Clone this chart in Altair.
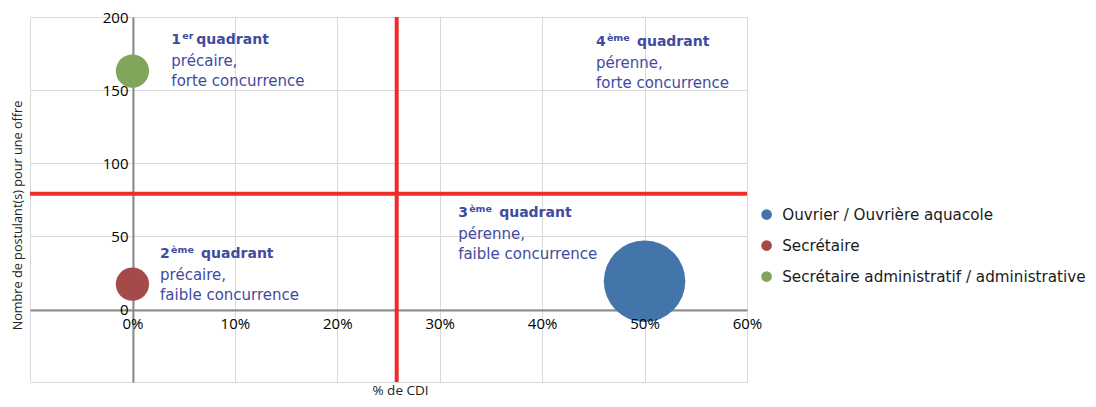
import altair as alt
import pandas as pd

# ---------------- data ----------------
metiers = ["Ouvrier / Ouvrière aquacole", "Secrétaire",
           "Secrétaire administratif / administrative"]
pct_cdi = [0.50, 0.0, 0.0]
postulants = [19, 17, 163]
nb_offres = [6, 1, 1]
couleurs = ["#4374aa", "#a54a4a", "#80a55b"]

seuil_cdi = 0.258
seuil_postulants = 79

x_ticks = [-0.1, 0.0, 0.1, 0.2, 0.3, 0.4, 0.5, 0.6]
y_ticks = [-50, 0, 50, 100, 150, 200]

quad_num = ["1", "2", "3", "4"]
quad_sup = ["er", "ème", "ème", "ème"]
quad_mot = ["quadrant", "quadrant", "quadrant", "quadrant"]
quad_l2 = ["précaire,", "précaire,", "pérenne,", "pérenne,"]
quad_l3 = ["forte concurrence", "faible concurrence",
           "faible concurrence", "forte concurrence"]
quad_x = [0.038, 0.027, 0.318, 0.4525]
quad_y = [184, 38, 66, 183]

# ---------------- styles ----------------
RED = "#ee2c2c"
BLUE_TXT = "#3f4b9f"
GRID = "#d9d9d9"
AXIS = "#8c8c8c"
TICK_FONT = "Open Sans"
TXT_FONT = "DejaVu Sans"

df = pd.DataFrame({"metier": metiers, "x": pct_cdi, "y": postulants, "s": nb_offres})
qdf = pd.DataFrame({"x": quad_x, "y": quad_y, "num": quad_num, "sup": quad_sup,
                    "mot": quad_mot, "l2": quad_l2, "l3": quad_l3})

xscale = alt.Scale(domain=[-0.1, 0.6], nice=False, zero=False)
yscale = alt.Scale(domain=[-50, 200], nice=False, zero=False)

XGRID = alt.Axis(orient="bottom", values=x_ticks, grid=True, gridColor=GRID,
                 labels=False, ticks=False, domain=True, domainColor=AXIS,
                 domainWidth=2, offset=-72, title=None, zindex=0)
YAX = alt.Axis(orient="left", values=y_ticks, grid=True, gridColor=GRID,
               ticks=False, domain=True, domainColor=AXIS, domainWidth=2,
               offset=-103,
               labelExpr="datum.value < 0 ? '' : datum.label",
               labelFont=TICK_FONT, labelFontSize=15, labelColor="#000000",
               labelPadding=5, labelOverlap=False,
               title="Nombre de postulant(s) pour une offre",
               titleFont=TICK_FONT, titleFontSize=12.7,
               titleFontWeight="normal", titleColor="#222222",
               titleX=-116, titleY=198, titleAngle=270,
               titleAlign="center", titleBaseline="middle", zindex=0)
XLAB = alt.Axis(orient="bottom", values=x_ticks, grid=False, domain=False,
                ticks=False, offset=-72,
                labelExpr="datum.value < 0 ? '' : format(datum.value, '.0%')",
                labelFont=TICK_FONT, labelFontSize=15, labelColor="#000000",
                labelPadding=6, labelFlush=False, labelOverlap=False,
                labelBound=False,
                title="% de CDI", titleFont=TICK_FONT, titleFontSize=13.5,
                titleFontWeight="normal", titleColor="#222222",
                titleX=370, titleY=80, titleAlign="center",
                titleBaseline="middle", zindex=1)

hline = alt.Chart(pd.DataFrame({"y": [seuil_postulants]})).mark_rule(color=RED, strokeWidth=4).encode(
    y=alt.Y("y:Q", scale=yscale, axis=YAX),
)

bubbles = alt.Chart(df).mark_circle(opacity=1, strokeWidth=0).encode(
    x=alt.X("x:Q", scale=xscale, axis=XGRID),
    y=alt.Y("y:Q", scale=yscale, axis=YAX),
    size=alt.Size("s:Q", scale=alt.Scale(domain=[0, 6], range=[0, 6648]), legend=None),
    color=alt.Color("metier:N", scale=alt.Scale(domain=metiers, range=couleurs),
                    legend=alt.Legend(title=None, orient="none", legendX=729, legendY=190,
                                      symbolType="circle", symbolSize=113,
                                      symbolOpacity=1, symbolStrokeWidth=0,
                                      labelFont=TXT_FONT, labelFontSize=15.2,
                                      labelColor="#1a1a1a", rowPadding=15,
                                      labelOffset=8, padding=0, labelLimit=400)),
)

base_t = alt.Chart(qdf).encode(
    x=alt.X("x:Q", scale=xscale, axis=XGRID),
    y=alt.Y("y:Q", scale=yscale, axis=YAX),
)
tkw = dict(align="left", baseline="middle", font=TXT_FONT, color=BLUE_TXT)
t_num = base_t.mark_text(fontSize=14, fontWeight="bold", **tkw).encode(text="num:N")
t_sup = base_t.mark_text(fontSize=9.5, fontWeight="bold", dx=11, dy=-4, **tkw).encode(text="sup:N")
t_mot1 = base_t.transform_filter("datum.num == '1'").mark_text(
    fontSize=14, fontWeight="bold", dx=25, **tkw).encode(text="mot:N")
t_mot2 = base_t.transform_filter("datum.num != '1'").mark_text(
    fontSize=14, fontWeight="bold", dx=41, **tkw).encode(text="mot:N")
t_l2 = base_t.mark_text(fontSize=15, dy=21, **tkw).encode(text="l2:N")
t_l3 = base_t.mark_text(fontSize=15, dy=41, **tkw).encode(text="l3:N")

inner = alt.layer(hline, bubbles, t_num, t_sup, t_mot1, t_mot2, t_l2, t_l3)

vline = alt.Chart(pd.DataFrame({"x": [seuil_cdi]})).mark_rule(color=RED, strokeWidth=4).encode(
    x=alt.X("x:Q", scale=xscale, axis=XLAB),
)

chart = alt.layer(inner, vline).resolve_axis(x="independent").properties(
    width=717, height=365,
    autosize=alt.AutoSizeParams(type="none"),
    padding={"left": 22, "top": 9, "right": 341, "bottom": 17},
).configure_view(stroke=None)

chart.save("out.html", embed_options={"renderer": "svg", "actions": False})
